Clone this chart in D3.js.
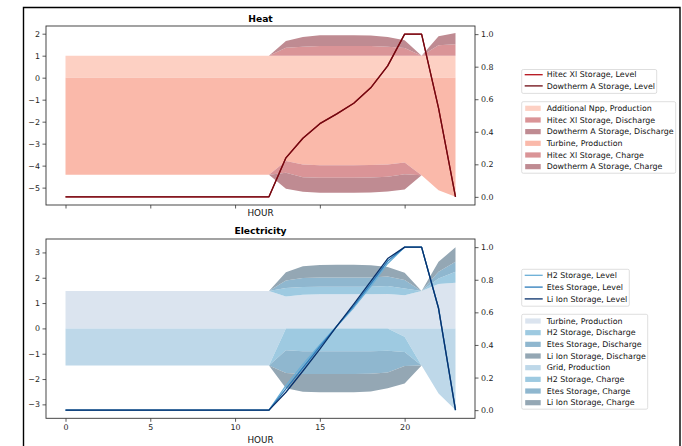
<!DOCTYPE html>
<html>
<head>
<meta charset="utf-8">
<script src="https://cdn.jsdelivr.net/npm/d3@7"></script>
<style>
  html, body { margin: 0; padding: 0; background: #fff; }
  svg { display: block; font-family: "DejaVu Sans", sans-serif; }
</style>
</head>
<body>
<svg id="chart" width="682" height="446"></svg>
<script>
// ---------------- DATA ----------------
const hours = [0,1,2,3,4,5,6,7,8,9,10,11,12,13,14,15,16,17,18,19,20,21,22,23];
const xTicks = [0, 5, 10, 15, 20];
const heatTicks = [2, 1, 0, -1, -2, -3, -4, -5];
const elecTicks = [3, 2, 1, 0, -1, -2, -3];
const levelTicks = [0.0, 0.2, 0.4, 0.6, 0.8, 1.0];

// Heat (left axis, stacked)
const heatNppProd     = [1,1,1,1,1,1,1,1,1,1,1,1,1,1,1,1,1,1,1,1,1,1,1,1];
const heatHitecDis    = [0,0,0,0,0,0,0,0,0,0,0,0,0,0.36,0.41,0.44,0.44,0.44,0.44,0.41,0.35,0,0.47,0.52];
const heatDowDis      = [0,0,0,0,0,0,0,0,0,0,0,0,0,0.31,0.44,0.49,0.49,0.49,0.48,0.44,0.35,0,0.41,0.51];
const heatTurbineProd = [-4.42,-4.42,-4.42,-4.42,-4.42,-4.42,-4.42,-4.42,-4.42,-4.42,-4.42,-4.42,-4.42,-3.79,-3.95,-3.98,-3.98,-3.98,-3.97,-3.95,-3.86,-4.44,-5.12,-5.41];
const heatHitecCh     = [0,0,0,0,0,0,0,0,0,0,0,0,0,-0.53,-0.58,-0.57,-0.57,-0.57,-0.57,-0.56,-0.53,0,0,0];
const heatDowCh       = [0,0,0,0,0,0,0,0,0,0,0,0,0,-0.73,-0.66,-0.68,-0.68,-0.68,-0.68,-0.67,-0.69,0,0,0];
// Heat (right axis, levels)
const heatHitecLevel  = [0,0,0,0,0,0,0,0,0,0,0,0,0,0.24,0.36,0.45,0.51,0.575,0.67,0.805,1.0,1.0,0.545,0];
const heatDowLevel    = [0,0,0,0,0,0,0,0,0,0,0,0,0,0.24,0.36,0.45,0.51,0.575,0.67,0.805,1.0,1.0,0.545,0];

// Electricity (left axis, stacked)
const elecTurbineProd = [1.48,1.48,1.48,1.48,1.48,1.48,1.48,1.48,1.48,1.48,1.48,1.48,1.48,1.26,1.33,1.35,1.35,1.35,1.35,1.36,1.31,1.48,1.75,1.80];
const elecH2Dis       = [0,0,0,0,0,0,0,0,0,0,0,0,0,0.34,0.30,0.29,0.29,0.29,0.29,0.31,0.27,0,0.22,0.44];
const elecEtesDis     = [0,0,0,0,0,0,0,0,0,0,0,0,0,0.29,0.36,0.37,0.37,0.37,0.37,0.38,0.33,0,0.27,0.39];
const elecLiDis       = [0,0,0,0,0,0,0,0,0,0,0,0,0,0.33,0.46,0.49,0.50,0.50,0.48,0.37,0.29,0,0.39,0.57];
const elecGridProd    = [-1.47,-1.47,-1.47,-1.47,-1.47,-1.47,-1.47,-1.47,-1.47,-1.47,-1.47,-1.47,-1.47,0,0,0,0,0,0,0,-0.33,-1.47,-2.57,-3.22];
const elecH2Ch        = [0,0,0,0,0,0,0,0,0,0,0,0,0,-0.86,-0.90,-0.90,-0.90,-0.90,-0.90,-0.88,-0.60,0,0,0];
const elecEtesCh      = [0,0,0,0,0,0,0,0,0,0,0,0,0,-0.90,-0.90,-0.90,-0.90,-0.90,-0.89,-0.86,-0.55,0,0,0];
const elecLiCh        = [0,0,0,0,0,0,0,0,0,0,0,0,0,-0.60,-0.70,-0.72,-0.72,-0.72,-0.70,-0.62,-0.70,0,0,0];
// Electricity (right axis, levels)
const elecH2Level     = [0,0,0,0,0,0,0,0,0,0,0,0,0,0.15,0.28,0.40,0.515,0.63,0.76,0.90,1.0,1.0,0.625,0];
const elecEtesLevel   = [0,0,0,0,0,0,0,0,0,0,0,0,0,0.13,0.26,0.39,0.515,0.64,0.775,0.915,1.0,1.0,0.625,0];
const elecLiLevel     = [0,0,0,0,0,0,0,0,0,0,0,0,0,0.11,0.24,0.375,0.515,0.65,0.79,0.93,1.0,1.0,0.625,0];

// Series definitions (labels / colors); first half of each area list stacks up, second half stacks down
const heatAreaLabels = ["Additional Npp, Production","Hitec Xl Storage, Discharge","Dowtherm A Storage, Discharge","Turbine, Production","Hitec Xl Storage, Charge","Dowtherm A Storage, Charge"];
const heatAreaValues = [heatNppProd, heatHitecDis, heatDowDis, heatTurbineProd, heatHitecCh, heatDowCh];
const heatAreaColors = ["#fdd0c3","#da9497","#bf8b92","#fab9aa","#da9497","#bf8b92"];
const heatLineLabels = ["Hitec Xl Storage, Level","Dowtherm A Storage, Level"];
const heatLineValues = [heatHitecLevel, heatDowLevel];
const heatLineColors = ["#b5111b","#6e0a12"];

const elecAreaLabels = ["Turbine, Production","H2 Storage, Discharge","Etes Storage, Discharge","Li Ion Storage, Discharge","Grid, Production","H2 Storage, Charge","Etes Storage, Charge","Li Ion Storage, Charge"];
const elecAreaValues = [elecTurbineProd, elecH2Dis, elecEtesDis, elecLiDis, elecGridProd, elecH2Ch, elecEtesCh, elecLiCh];
const elecAreaColors = ["#dbe4ef","#9ecae1","#8fb7cf","#94a7b4","#bed8e9","#9ecae1","#8fb7cf","#94a7b4"];
const elecLineLabels = ["H2 Storage, Level","Etes Storage, Level","Li Ion Storage, Level"];
const elecLineValues = [elecH2Level, elecEtesLevel, elecLiLevel];
const elecLineColors = ["#6aaed6","#2b7bba","#08306b"];

// ---------------- DRAW ----------------
const svg = d3.select("#chart");
svg.append("rect").attr("width", 682).attr("height", 446).attr("fill", "#fff");
// outer frame
svg.append("path").attr("d", "M23.5,460 L23.5,7.5 L680,7.5 L680,460")
  .attr("fill", "none").attr("stroke", "#000").attr("stroke-width", 1.4);

const X0 = 46, X1 = 475;
const x = d3.scaleLinear().domain([-1.15, 24.15]).range([X0, X1]);

function stackGroup(values, idxOffset) {
  const keys = values.map((_, i) => "s" + (i + idxOffset));
  const rows = hours.map((h, j) => {
    const r = { hour: h };
    keys.forEach((k, i) => r[k] = values[i][j]);
    return r;
  });
  return d3.stack().keys(keys)(rows);  // stackOffsetNone: cumulative sums (works for all-negative groups too)
}

function panel(opt) {
  const { top, bottom, yDomain, yTicks, title, titleY, areaLabels, areaValues, areaColors,
          lineLabels, lineValues, lineColors, showXLabels, hourY, legend1, legend2 } = opt;
  const g = svg.append("g");
  const y = d3.scaleLinear().domain(yDomain).range([bottom, top]);
  const y2 = d3.scaleLinear().domain([-0.05, 1.05]).range([bottom, top]);

  // stacked areas: positive group and negative group
  const half = areaValues.length / 2;
  const stacked = stackGroup(areaValues.slice(0, half), 0)
    .concat(stackGroup(areaValues.slice(half), half));
  const area = d3.area().x(d => x(d.data.hour)).y0(d => y(d[0])).y1(d => y(d[1]));
  const clip = "clip" + Math.round(top);
  svg.append("clipPath").attr("id", clip).append("rect")
    .attr("x", X0).attr("y", top).attr("width", X1 - X0).attr("height", bottom - top);
  g.append("g").attr("clip-path", `url(#${clip})`).selectAll("path.area").data(stacked).join("path")
    .attr("class", "area").attr("d", area).attr("fill", (d, i) => areaColors[i]).attr("stroke", "none");

  // level lines
  const line = d3.line().x((d, j) => x(hours[j])).y(d => y2(d));
  g.append("g").attr("clip-path", `url(#${clip})`).selectAll("path.lvl").data(lineValues).join("path")
    .attr("class", "lvl").attr("d", d => line(d)).attr("fill", "none")
    .attr("stroke", (d, i) => lineColors[i]).attr("stroke-width", 1.3).attr("stroke-linejoin", "round");

  // axes
  const fs = "7.9px";
  const ax = g.append("g").attr("transform", `translate(${X0},0)`)
    .call(d3.axisLeft(y).tickValues(yTicks).tickSize(3.5).tickPadding(2.5).tickFormat(d => d < 0 ? "\u2212" + Math.abs(d) : d));
  const ax2 = g.append("g").attr("transform", `translate(${X1},0)`)
    .call(d3.axisRight(y2).tickValues(levelTicks).tickSize(3.5).tickPadding(2.5).tickFormat(d3.format(".1f")));
  const axb = g.append("g").attr("transform", `translate(0,${bottom})`)
    .call(d3.axisBottom(x).tickValues(xTicks).tickSize(3.5).tickPadding(2.5).tickFormat(showXLabels ? d3.format("d") : () => ""));
  [ax, ax2, axb].forEach(a => {
    a.select(".domain").remove();
    a.selectAll("line").attr("stroke", "#333").attr("stroke-width", 0.8);
    a.selectAll("text").attr("fill", "#222").style("font-size", fs).style("font-family", "DejaVu Sans");
  });
  g.append("rect").attr("x", X0).attr("y", top).attr("width", X1 - X0).attr("height", bottom - top)
    .attr("fill", "none").attr("stroke", "#333").attr("stroke-width", 0.9);

  g.append("text").attr("x", (X0 + X1) / 2).attr("y", titleY).attr("text-anchor", "middle")
    .style("font-size", "9.2px").style("font-weight", "bold").attr("fill", "#000").text(title);
  g.append("text").attr("x", (X0 + X1) / 2).attr("y", hourY).attr("text-anchor", "middle")
    .style("font-size", "8.8px").attr("fill", "#111").text("HOUR");

  // legends
  const lfs = "7.9px";
  const L1 = g.append("g");
  L1.append("rect").attr("x", legend1.x).attr("y", legend1.y).attr("width", legend1.w)
    .attr("height", lineLabels.length * legend1.step + 1.5).attr("rx", 1.5)
    .attr("fill", "#fff").attr("stroke", "#d6d6d6").attr("stroke-width", 0.8);
  const le1 = L1.selectAll("g.e").data(lineLabels).join("g").attr("class", "e")
    .attr("transform", (d, i) => `translate(${legend1.x},${legend1.first + i * legend1.step})`);
  le1.append("line").attr("x1", 3).attr("x2", 21).attr("y1", 0).attr("y2", 0)
    .attr("stroke", (d, i) => lineColors[i]).attr("stroke-width", 1.3);
  le1.append("text").attr("x", 25).attr("y", 0).attr("dy", "0.35em").style("font-size", lfs)
    .attr("fill", "#111").text(d => d);

  const L2 = g.append("g");
  L2.append("rect").attr("x", legend2.x).attr("y", legend2.y).attr("width", legend2.w)
    .attr("height", areaLabels.length * legend2.step + 1.5).attr("rx", 1.5)
    .attr("fill", "#fff").attr("stroke", "#d6d6d6").attr("stroke-width", 0.8);
  const le2 = L2.selectAll("g.e").data(areaLabels).join("g").attr("class", "e")
    .attr("transform", (d, i) => `translate(${legend2.x},${legend2.first + i * legend2.step})`);
  le2.append("rect").attr("x", 3.5).attr("y", -2.6).attr("width", 15.5).attr("height", 5.2)
    .attr("fill", (d, i) => areaColors[i]);
  le2.append("text").attr("x", 25).attr("y", 0).attr("dy", "0.35em").style("font-size", lfs)
    .attr("fill", "#111").text(d => d);
}

panel({
  top: 26, bottom: 205, yDomain: [-5.79, 2.35], yTicks: heatTicks,
  title: "Heat", titleY: 21.5, areaLabels: heatAreaLabels, areaValues: heatAreaValues, areaColors: heatAreaColors,
  lineLabels: heatLineLabels, lineValues: heatLineValues, lineColors: heatLineColors,
  showXLabels: false, hourY: 216,
  legend1: { x: 521.7, y: 69.5, w: 135, first: 74.7, step: 11.2 },
  legend2: { x: 521.7, y: 101.7, w: 154, first: 108.3, step: 11.67 }
});
panel({
  top: 239, bottom: 418.3, yDomain: [-3.55, 3.53], yTicks: elecTicks,
  title: "Electricity", titleY: 233.5, areaLabels: elecAreaLabels, areaValues: elecAreaValues, areaColors: elecAreaColors,
  lineLabels: elecLineLabels, lineValues: elecLineValues, lineColors: elecLineColors,
  showXLabels: true, hourY: 442.5,
  legend1: { x: 521.7, y: 269.3, w: 107.6, first: 275.3, step: 11.8 },
  legend2: { x: 521.7, y: 314.3, w: 126, first: 321, step: 11.67 }
});
</script>
</body>
</html>
